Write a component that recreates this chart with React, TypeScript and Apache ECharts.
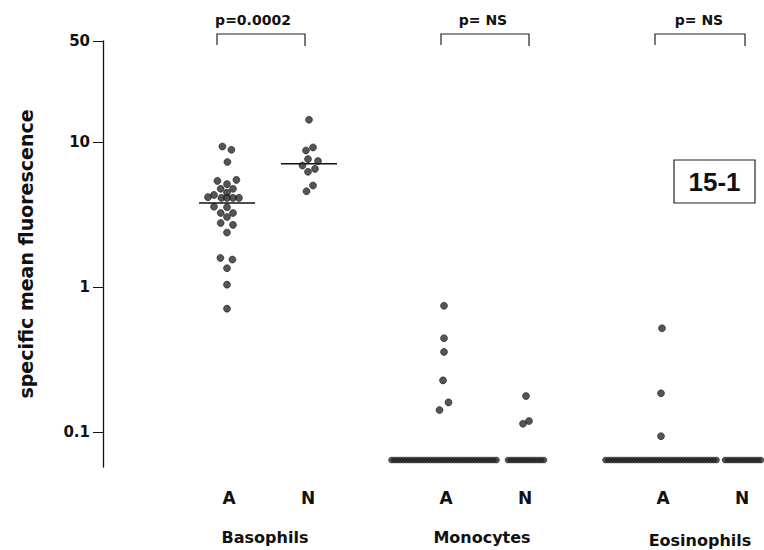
import React, { useEffect, useRef } from "react";
import * as echarts from "echarts";

// ---- categories / labels ----
const groups = ["Basophils", "Monocytes", "Eosinophils"];
const subgroups = ["A", "N"];
const pLabels = ["p=0.0002", "p= NS", "p= NS"];
const panelTag = "15-1";
const yTickValues = [0.1, 1, 10, 50];
const yAxisTitle = "specific mean fluorescence";

// ---- data (specific mean fluorescence) ----
const basoA = [9.35, 8.87, 7.3, 5.41, 5.14, 5.5, 4.77, 4.77, 4.49, 4.33, 4.18, 4.13, 4.13, 4.13, 4.13, 3.59, 3.56, 3.25, 3.25, 3.05, 2.77, 2.69, 2.38, 1.59, 1.55, 1.35, 1.04, 0.71];
const basoN = [14.3, 9.21, 8.78, 7.65, 7.41, 6.91, 6.55, 6.25, 5.03, 4.59];
const monoA = [0.743, 0.444, 0.357, 0.227, 0.16, 0.1416];
const monoN = [0.177, 0.119, 0.114];
const eosA = [0.52, 0.185, 0.0935];
const eosN: number[] = [];
// samples at the detection floor (drawn as a packed row)
const belowValue = 0.064;
const belowCounts = [
  [0, 0],
  [36, 13],
  [38, 13],
];
const medians = [
  [3.8, 7.1],
  [null, null],
  [null, null],
];

// ---- beeswarm jitter (layout only, in x-axis units) ----
const basoAJitter = [-4.6, 4.4, 0.4, -9.6, 0, 9.4, -6.3, 6, 0, -13, -19, -5.6, 0, 6, 12, -13, 0, -6.3, 6, 0, -6.3, 6, 0, -6.6, 5.4, 0, 0, 0];
const basoNJitter = [0, 4, -3, -1, 9, -6.5, 6, -1, 4, -2.5];
const monoAJitter = [0, 0, 0, -1, 4.5, -4.5];
const monoNJitter = [0, 3, -3];
const eosAJitter = [1, 0, 0];
const eosNJitter: number[] = [];

const values = [
  [basoA, basoN],
  [monoA, monoN],
  [eosA, eosN],
];
const jitters = [
  [basoAJitter, basoNJitter],
  [monoAJitter, monoNJitter],
  [eosAJitter, eosNJitter],
];

const GROUP_STEP = 217;
const SUB_STEP = 82;
const X_MIN = -124;
const X_MAX = 537;
const Y_MIN = Math.log10(0.0573);
const Y_MAX = Math.log10(50);
const FONT = "DejaVu Sans";

const posOf = (g: number, s: number) => g * GROUP_STEP + s * SUB_STEP;

export default function App() {
  const ref = useRef<HTMLDivElement>(null);
  useEffect(() => {
    document.body.style.margin = "0";
    if (!ref.current) return;
    const chart = echarts.init(ref.current, undefined, { renderer: "svg" });

    const pts: number[][] = [];
    values.forEach((gv, g) =>
      gv.forEach((arr, s) =>
        arr.forEach((v, i) => pts.push([posOf(g, s) + jitters[g][s][i], Math.log10(v)]))
      )
    );
    const floorPts: number[][] = [];
    belowCounts.forEach((gc, g) =>
      gc.forEach((n, s) => {
        for (let i = 0; i < n; i++) {
          floorPts.push([posOf(g, s) + (i - (n - 1) / 2) * 3, Math.log10(belowValue)]);
        }
      })
    );
    const medianSeries: any[] = [];
    medians.forEach((gm, g) =>
      gm.forEach((m, s) => {
        if (m == null) return;
        const c = posOf(g, s);
        medianSeries.push({
          type: "line",
          data: [
            [c - 28, Math.log10(m)],
            [c + 28, Math.log10(m)],
          ],
          symbol: "none",
          lineStyle: { color: "#111", width: 1.5 },
          z: 1,
        });
      })
    );

    const tickLogs = yTickValues.map((t) => Math.log10(t));

    chart.setOption({
      animation: false,
      backgroundColor: "#fff",
      grid: { left: 103, right: 0, top: 41, bottom: 83 },
      xAxis: {
        type: "value",
        min: X_MIN,
        max: X_MAX,
        show: false,
      },
      yAxis: {
        type: "value",
        min: Y_MIN,
        max: Y_MAX,
        name: yAxisTitle,
        nameLocation: "middle",
        nameGap: 68,
        nameTextStyle: { fontFamily: FONT, fontWeight: "bold", fontSize: 19, color: "#111" },
        axisLine: { show: true, onZero: false, lineStyle: { color: "#111", width: 1.3 } },
        axisTick: { show: true, length: 10, customValues: tickLogs, lineStyle: { color: "#111", width: 1 } },
        axisLabel: {
          customValues: tickLogs,
          margin: 13,
          fontFamily: FONT,
          fontWeight: "bold",
          fontSize: 15,
          color: "#111",
          formatter: (v: number) => {
            const i = tickLogs.findIndex((t) => Math.abs(t - v) < 1e-6);
            return i >= 0 ? String(yTickValues[i]) : "";
          },
        },
        splitLine: { show: false },
      },
      series: [
        ...medianSeries,
        {
          type: "scatter",
          data: pts,
          symbol: "circle",
          symbolSize: 7,
          itemStyle: { color: "#2a2a2a", borderColor: "#000", borderWidth: 0.6 },
          z: 2,
        },
        {
          type: "scatter",
          data: floorPts,
          symbol: "circle",
          symbolSize: 6,
          itemStyle: { color: "#262626", borderColor: "#111", borderWidth: 0.5 },
          z: 2,
        },
      ],
    });

    const px = (u: number) => chart.convertToPixel({ gridIndex: 0 }, [u, 0])[0];
    const graphics: any[] = [];
    const brackets = [
      [217, 305],
      [441, 529],
      [655, 745],
    ];
    const pCenters = [253, 483, 699];
    const groupCenters = [265, 482, 700];
    groups.forEach((name, g) => {
      const [bl, br] = brackets[g];
      graphics.push({
        type: "polyline",
        shape: { points: [[bl, 45], [bl, 34], [br, 34], [br, 46]] },
        style: { stroke: "#222", lineWidth: 1.2, fill: null },
      });
      graphics.push({
        type: "text",
        x: pCenters[g],
        y: 20,
        style: {
          text: pLabels[g],
          fontFamily: FONT,
          fontWeight: "bold",
          fontSize: 14,
          fill: "#111",
          align: "center",
          verticalAlign: "middle",
        },
      });
      subgroups.forEach((sg, s) => {
        graphics.push({
          type: "text",
          x: px(posOf(g, s)) + (s === 0 ? 2 : -1),
          y: 498,
          style: {
            text: sg,
            fontFamily: FONT,
            fontWeight: "bold",
            fontSize: 17,
            fill: "#111",
            align: "center",
            verticalAlign: "middle",
          },
        });
      });
      graphics.push({
        type: "text",
        x: groupCenters[g],
        y: g === 2 ? 540 : 537,
        style: {
          text: name,
          fontFamily: FONT,
          fontWeight: "bold",
          fontSize: 16,
          fill: "#111",
          align: "center",
          verticalAlign: "middle",
        },
      });
    });
    graphics.push({
      type: "rect",
      shape: { x: 674, y: 160, width: 81, height: 43 },
      style: { fill: "#fff", stroke: "#222", lineWidth: 1.2 },
    });
    graphics.push({
      type: "text",
      x: 714.5,
      y: 182,
      style: {
        text: panelTag,
        fontFamily: "Liberation Sans",
        fontWeight: "bold",
        fontSize: 26,
        fill: "#111",
        align: "center",
        verticalAlign: "middle",
      },
    });
    chart.setOption({ graphic: graphics });

    return () => chart.dispose();
  }, []);
  return <div ref={ref} style={{ width: 764, height: 550 }} />;
}
